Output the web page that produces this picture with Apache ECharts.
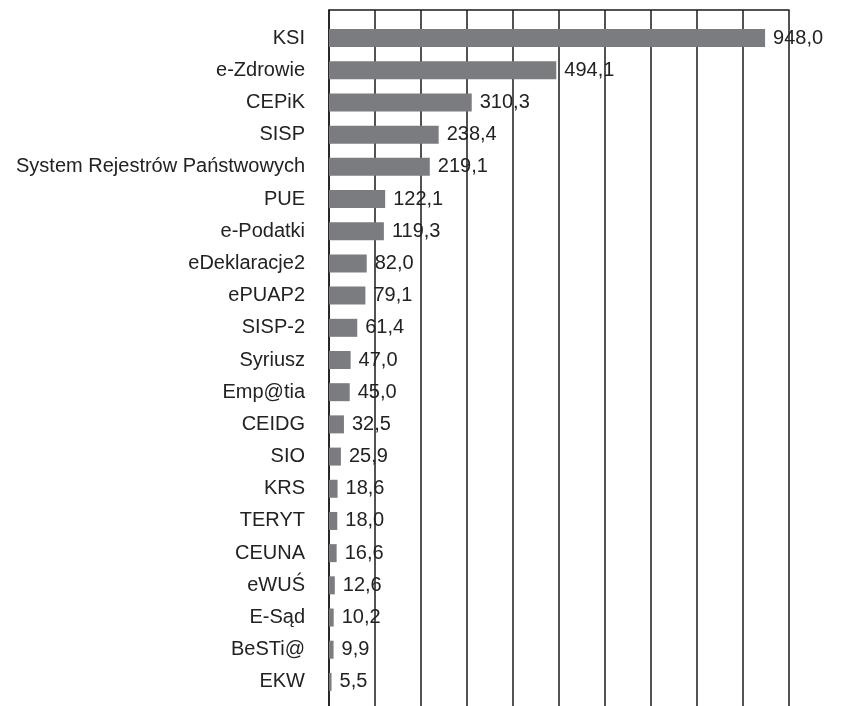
<!DOCTYPE html>
<html>
<head>
<meta charset="utf-8">
<title>systemy</title>
<script src="https://cdn.jsdelivr.net/npm/echarts@6/dist/echarts.min.js"></script>
<style>
  html, body { margin: 0; padding: 0; background: #fff; }
  #main { width: 850px; height: 706px; }
</style>
</head>
<body>
<div id="main"></div>
<script>
var categories = ['KSI', 'e-Zdrowie', 'CEPiK', 'SISP', 'System Rejestrów Państwowych', 'PUE',
  'e-Podatki', 'eDeklaracje2', 'ePUAP2', 'SISP-2', 'Syriusz', 'Emp@tia', 'CEIDG', 'SIO',
  'KRS', 'TERYT', 'CEUNA', 'eWUŚ', 'E-Sąd', 'BeSTi@', 'EKW'];
var values = [948.0, 494.1, 310.3, 238.4, 219.1, 122.1, 119.3, 82.0, 79.1, 61.4, 47.0,
  45.0, 32.5, 25.9, 18.6, 18.0, 16.6, 12.6, 10.2, 9.9, 5.5];
var axisMax = 1000;
var axisStep = 100;

var chart = echarts.init(document.getElementById('main'));
var lineCol = '#1a1a1a';
var txt = { fontFamily: 'Liberation Sans', fontSize: 20, color: '#222' };

var option = {
  backgroundColor: '#fff',
  animation: false,
  grid: [
    // frame with the vertical lines
    { left: 329, right: 61, top: 10, bottom: -2 },
    // bars
    { left: 329, right: 61, top: 22, bottom: 8 }
  ],
  xAxis: [
    {
      gridIndex: 0, type: 'value', min: 0, max: axisMax, interval: axisStep, position: 'top',
      axisLine: { show: true, onZero: false, lineStyle: { color: lineCol, width: 1.5 } },
      axisTick: { show: false }, axisLabel: { show: false },
      splitLine: { show: true, lineStyle: { color: lineCol, width: 1.5 } }
    },
    {
      gridIndex: 1, type: 'value', min: 0, max: axisMax, show: false
    }
  ],
  yAxis: [
    {
      gridIndex: 0, type: 'value',
      axisLine: { show: true, onZero: false, lineStyle: { color: lineCol, width: 1.5 } },
      axisTick: { show: false }, axisLabel: { show: false }, splitLine: { show: false }
    },
    {
      gridIndex: 1, type: 'category', inverse: true, data: categories,
      axisLine: { show: false }, axisTick: { show: false },
      axisLabel: Object.assign({ margin: 24 }, txt)
    }
  ],
  series: [
    {
      type: 'bar',
      xAxisIndex: 1, yAxisIndex: 1,
      data: values,
      barWidth: 18,
      itemStyle: { color: '#7b7c80' },
      label: Object.assign({
        show: true, position: 'right', distance: 8,
        formatter: function (p) { return p.value.toFixed(1).replace('.', ','); }
      }, txt)
    }
  ]
};

chart.setOption(option);
</script>
</body>
</html>
